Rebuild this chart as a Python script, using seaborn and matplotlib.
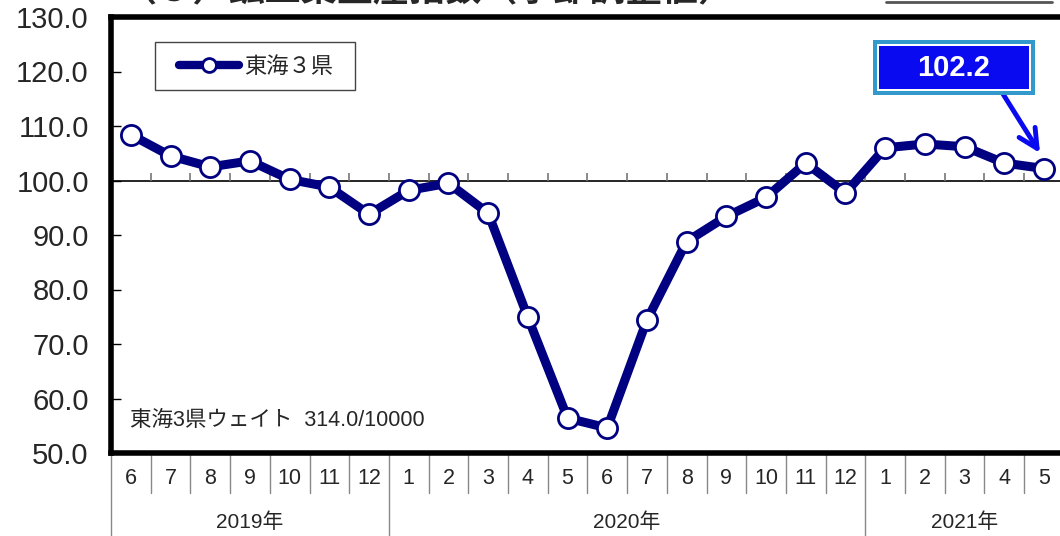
import numpy as np
import pandas as pd
import matplotlib
matplotlib.use("Agg")
import matplotlib.pyplot as plt
import matplotlib.patches as mpatches
from matplotlib.lines import Line2D
import seaborn as sns

#%% data
months = ["6", "7", "8", "9", "10", "11", "12",
          "1", "2", "3", "4", "5", "6", "7", "8", "9", "10", "11", "12",
          "1", "2", "3", "4", "5"]
years = ["2019年", "2020年", "2021年"]
year_counts = [7, 12, 5]
index_values = [108.4, 104.5, 102.5, 103.6, 100.2, 98.8, 93.8,
                98.2, 99.5, 94.0, 74.9, 56.4, 54.6, 74.4, 88.8, 93.4, 96.9, 103.2, 97.7,
                106.0, 106.7, 106.2, 103.2, 102.2]
series_name = "東海３県"
weight_note = "東海3県ウェイト  314.0/10000"
title = "（３）鉱工業生産指数（季節調整値）"
latest = "102.2"

df = pd.DataFrame({"pos": np.arange(len(months)), "value": index_values})

#%% style
sns.set_theme(style="white")
plt.rcParams["font.family"] = ["Liberation Sans Narrow", "Liberation Sans", "Noto Sans CJK JP", "DejaVu Sans"]

W, H = 1060, 536
fig = plt.figure(figsize=(W / 100, H / 100), dpi=100)
x0, x1, ytop, ybot = 111, 111 + 24 * 39.7, 17, 453
ax = fig.add_axes([x0 / W, 1 - ybot / H, (x1 - x0) / W, (ybot - ytop) / H])


def fx(px):
    return px / W


def fy(py):
    return 1 - py / H


navy = "#000080"
sns.lineplot(data=df, x="pos", y="value", ax=ax, color=navy, linewidth=6.5,
             marker="o", markersize=14.5, markerfacecolor="white",
             markeredgecolor=navy, markeredgewidth=2, zorder=5)

ax.set_xlim(-0.5, len(months) - 0.5)
ax.set_ylim(50, 130)
ax.set_yticks(np.arange(50, 131, 10))
ax.set_yticklabels([f"{v:.1f}" for v in np.arange(50, 131, 10)], fontsize=21)
ax.tick_params(axis="y", direction="in", length=7, width=1, color="black", pad=16, left=True)
ax.set_xticks([])
ax.set_xlabel("")
ax.set_ylabel("")

for side in ["left", "top", "bottom"]:
    ax.spines[side].set_linewidth(4)
    ax.spines[side].set_color("black")
ax.spines["right"].set_visible(False)

ax.axhline(100, color="black", lw=1.2, zorder=2)
# small ticks on the 100 line at month boundaries
ax.vlines(np.arange(len(months) - 1) + 0.5, 100, 101.3, color="#777777", lw=1.2, zorder=2)

#%% month / year table below the axes
trans = ax.get_xaxis_transform()
month_bottom = (ybot - 493) / (ybot - ytop)
for i, m in enumerate(months):
    ax.text(i, (ybot - 478) / (ybot - ytop), m, transform=trans, ha="center", va="center",
            fontsize=15.5, clip_on=False)
bounds = np.cumsum([0] + year_counts)
for i in range(len(months) + 1):
    bottom = -0.2 if i in bounds else month_bottom
    ax.plot([i - 0.5, i - 0.5], [0, bottom], transform=trans, color="#888888", lw=1, clip_on=False)
for y, a, b in zip(years, bounds[:-1], bounds[1:]):
    ax.text((a + b - 1) / 2, (ybot - 522) / (ybot - ytop), y, transform=trans, ha="center",
            va="center", fontsize=15, clip_on=False)

#%% legend (frame drawn separately) and note
ax.add_patch(mpatches.Rectangle((fx(155), fy(90)), fx(355) - fx(155), fy(42) - fy(90),
                                transform=fig.transFigure, facecolor="white",
                                edgecolor="#444444", lw=1, zorder=3, clip_on=False))
handle = Line2D([], [], color=navy, lw=6, marker="o", markersize=10,
                markerfacecolor="white", markeredgecolor=navy, markeredgewidth=2)
leg = ax.legend([handle], [series_name], loc="center",
                bbox_to_anchor=(fx(256), fy(66)), bbox_transform=fig.transFigure,
                frameon=False, handlelength=2.7, handletextpad=0.2,
                prop={"family": ["Noto Sans CJK JP"], "size": 16})
leg.set_zorder(6)

ax.text((130 - x0) / (x1 - x0), (ybot - 420) / (ybot - ytop), weight_note, transform=ax.transAxes,
        fontsize=15.5, va="center", ha="left", family=["Liberation Sans", "Noto Sans CJK JP"])

#%% callout box with arrow
for (l, t, r, b, c) in [(873, 40, 1035, 95, "#3399cc"), (877, 44, 1031, 91, "white"),
                        (879, 46, 1029, 89, "#0a0af0")]:
    fig.patches.append(mpatches.Rectangle((fx(l), fy(b)), fx(r) - fx(l), fy(t) - fy(b),
                                          transform=fig.transFigure, facecolor=c,
                                          edgecolor="none", zorder=10))
fig.text(fx(954), fy(68), latest, color="white", fontsize=21, fontweight="bold",
         ha="center", va="center", zorder=11, family=["Liberation Sans"])


def dx(px):
    return (px - x0) / 39.7 - 0.5


def dy(py):
    return 130 - (py - ytop) / (ybot - ytop) * 80


ax.annotate("", xy=(dx(1040), dy(153)), xytext=(dx(1003), dy(94)),
            arrowprops=dict(arrowstyle="->", lw=3.5, color="#0a0af0", mutation_scale=34,
                            shrinkA=0, shrinkB=0), annotation_clip=False, zorder=9)

# partially visible title and box at the top edge
fig.text(fx(120), fy(-10), title, fontsize=26, fontweight="bold", ha="left", va="center",
         family=["Noto Sans CJK JP"])
fig.lines.append(Line2D([fx(886), fx(1052)], [fy(1.5), fy(1.5)], transform=fig.transFigure,
                        color="#555555", lw=2))

fig.savefig("out.png", dpi=100)
